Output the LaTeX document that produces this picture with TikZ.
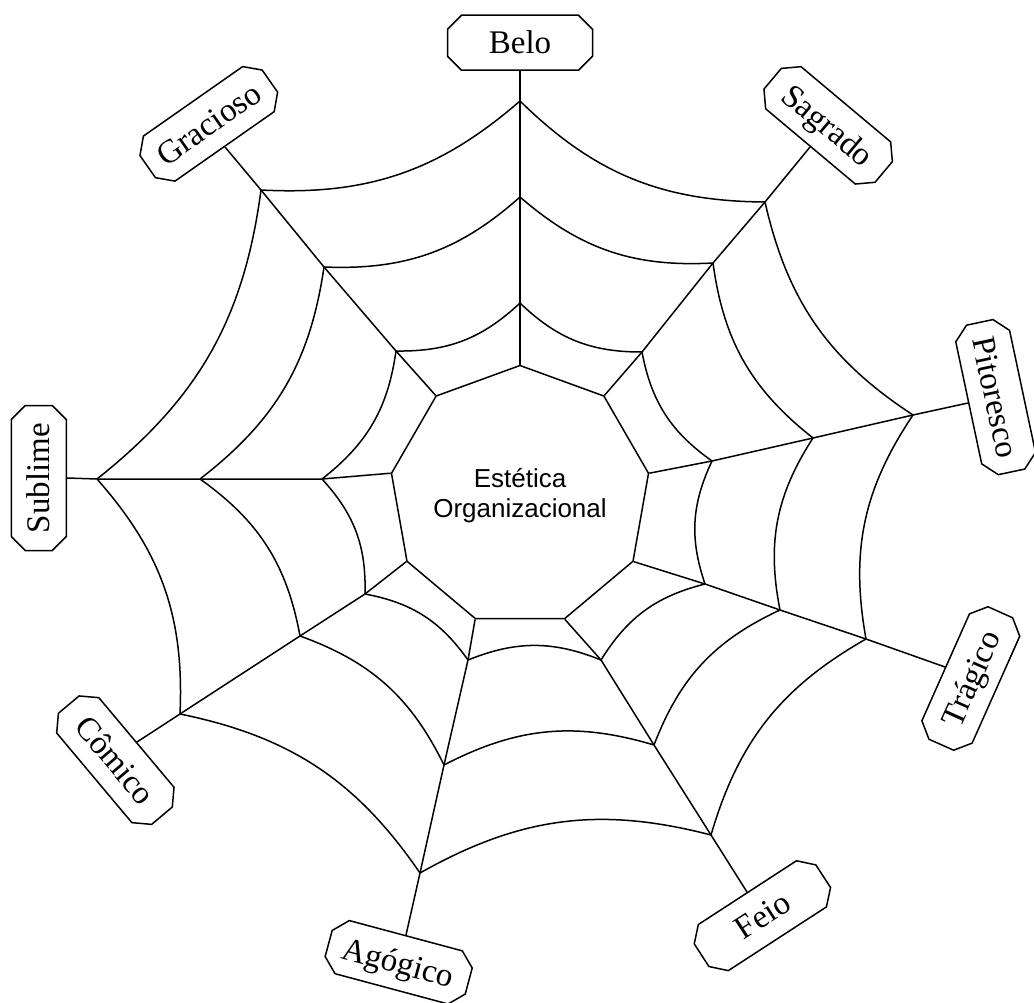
\documentclass[tikz,border=0pt]{standalone}
\usepackage{fontspec}
\setmainfont{Liberation Serif}
\newfontfamily\arialfont{Liberation Sans}
\usetikzlibrary{shapes.geometric,shapes.misc}
\begin{document}
\begin{tikzpicture}[x=1pt,y=-1pt,
  web/.style={line width=1.5pt, line join=round},
  lab/.style={draw, line width=1.5pt, fill=white, chamfered rectangle,
    chamfered rectangle sep=7pt, font=\fontsize{33}{36}\selectfont,
    text height=27pt, text depth=5pt, inner xsep=8pt, inner ysep=3pt,
    minimum width=145pt, minimum height=55pt},
  arc/.style={web, bend right=22}
]
\fill[white] (0,0) rectangle (1034,1003);
\useasboundingbox (0,0) rectangle (1034,1003);

\node[regular polygon, regular polygon sides=9, minimum size=222pt, inner sep=0pt,
  draw, web, align=center, font=\arialfont\fontsize{26}{30}\selectfont]
  (ctr) at (520,496) {Estética\\Organizacional};

% labels
\node[lab, anchor=south] (belo) at (520,71) {Belo};
\node[lab, anchor=south, rotate=-40] (sagrado) at (810,147) {Sagrado};
\node[lab, anchor=south, rotate=-78] (pitoresco) at (968,403) {Pitoresco};
\node[lab, anchor=north, rotate=66] (tragico) at (945,667) {Trágico};
\node[lab, anchor=north, rotate=33] (feio) at (747,892) {Feio};
\node[lab, anchor=north, rotate=-15] (agogico) at (406,935) {Agógico};
\node[lab, anchor=north, rotate=-50] (comico) at (137,742) {Cômico};
\node[lab, anchor=south, rotate=90] (sublime) at (67,478) {Sublime};
\node[lab, anchor=south, rotate=35] (gracioso) at (225,147) {Gracioso};

% junctions
\coordinate (B1) at (520,101); \coordinate (B2) at (520,197); \coordinate (B3) at (520,303);
\coordinate (S1) at (765,202); \coordinate (S2) at (713,263); \coordinate (S3) at (642,352);
\coordinate (P1) at (913,415); \coordinate (P2) at (813,438); \coordinate (P3) at (712,461);
\coordinate (T1) at (866,639); \coordinate (T2) at (780,610); \coordinate (T3) at (705,584);
\coordinate (F1) at (711,835); \coordinate (F2) at (654,745); \coordinate (F3) at (601,660);
\coordinate (A1) at (420,873); \coordinate (A2) at (444,765); \coordinate (A3) at (468,660);
\coordinate (C1) at (180,714); \coordinate (C2) at (300,636); \coordinate (C3) at (365,594);
\coordinate (U1) at (97,479);  \coordinate (U2) at (200,479); \coordinate (U3) at (322,479);
\coordinate (G1) at (261,190); \coordinate (G2) at (324,267); \coordinate (G3) at (396,351);

% spokes
\draw[web] (ctr.corner 1) -- (B3) -- (B2) -- (B1) -- (belo.south);
\draw[web] (ctr.corner 9) -- (S3) -- (S2) -- (S1) -- (sagrado.south);
\draw[web] (ctr.corner 8) -- (P3) -- (P2) -- (P1) -- (pitoresco.south);
\draw[web] (ctr.corner 7) -- (T3) -- (T2) -- (T1) -- (tragico.north);
\draw[web] (ctr.corner 6) -- (F3) -- (F2) -- (F1) -- (feio.north);
\draw[web] (ctr.corner 5) -- (A3) -- (A2) -- (A1) -- (agogico.north);
\draw[web] (ctr.corner 4) -- (C3) -- (C2) -- (C1) -- (comico.north);
\draw[web] (ctr.corner 3) -- (U3) -- (U2) -- (U1) -- (sublime.south);
\draw[web] (ctr.corner 2) -- (G3) -- (G2) -- (G1) -- (gracioso.south);

% threads
\foreach \a/\b in {B/S,S/P,P/T,T/F,F/A,A/C,C/U,U/G,G/B}{
  \foreach \i in {1,2,3}{
    \draw[arc] (\a\i) to (\b\i);
  }
}
\end{tikzpicture}
\end{document}
